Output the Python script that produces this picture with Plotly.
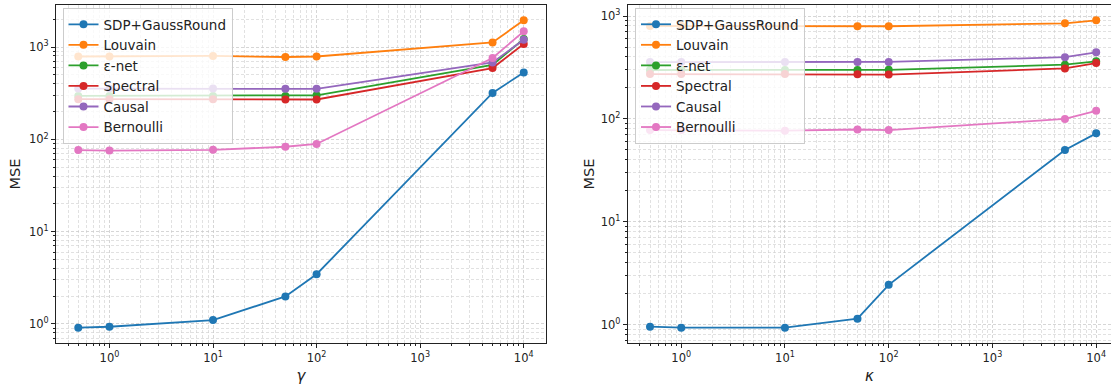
import plotly.graph_objects as go

x_vals = [0.5, 1, 10, 50, 100, 5000, 10000]
methods = ["SDP+GaussRound", "Louvain", "ε-net", "Spectral", "Causal", "Bernoulli"]
colors = ["#1f77b4", "#ff7f0e", "#2ca02c", "#d62728", "#9467bd", "#e377c2"]

# Left panel: MSE vs gamma
gamma_sdp = [0.91, 0.93, 1.10, 1.98, 3.45, 318, 530]
gamma_louvain = [790, 790, 800, 780, 790, 1120, 1950]
gamma_enet = [295, 295, 295, 295, 300, 640, 1220]
gamma_spectral = [272, 272, 272, 270, 270, 592, 1080]
gamma_causal = [355, 355, 355, 352, 352, 680, 1200]
gamma_bernoulli = [76.5, 75.5, 77, 83, 89, 760, 1480]

# Right panel: MSE vs kappa
kappa_sdp = [0.96, 0.94, 0.94, 1.15, 2.45, 50, 72.5]
kappa_louvain = [800, 800, 800, 795, 795, 849, 908]
kappa_enet = [299, 299, 299, 299, 300, 337, 363]
kappa_spectral = [273, 273, 273, 272, 270, 310, 349]
kappa_causal = [357, 357, 357, 357, 358, 398, 444]
kappa_bernoulli = [78, 78, 77, 79, 78, 100, 120]

tick_vals = [1, 10, 100, 1000, 10000]
tick_text = ["10<sup>0</sup>", "10<sup>1</sup>", "10<sup>2</sup>", "10<sup>3</sup>", "10<sup>4</sup>"]

W, H = 1111, 387
FONT = "DejaVu Sans"

left_series = [gamma_sdp, gamma_louvain, gamma_enet, gamma_spectral, gamma_causal, gamma_bernoulli]
right_series = [kappa_sdp, kappa_louvain, kappa_enet, kappa_spectral, kappa_causal, kappa_bernoulli]

fig = go.Figure()
for name, col, ys in zip(methods, colors, left_series):
    fig.add_trace(go.Scatter(x=x_vals, y=ys, name=name, mode="lines+markers",
                             line=dict(color=col, width=1.8), marker=dict(color=col, size=8),
                             xaxis="x", yaxis="y", legend="legend"))
for name, col, ys in zip(methods, colors, right_series):
    fig.add_trace(go.Scatter(x=x_vals, y=ys, name=name, mode="lines+markers",
                             line=dict(color=col, width=1.8), marker=dict(color=col, size=8),
                             xaxis="x2", yaxis="y2", legend="legend2"))

minor_vals = [m * 10 ** e for e in range(-1, 5) for m in range(2, 10)]

grid_major = "rgba(200,200,200,0.75)"
grid_minor = "rgba(205,205,205,0.6)"

def axis_common(**kw):
    d = dict(type="log", tickmode="array", tickvals=tick_vals, ticktext=tick_text,
             showline=True, linecolor="#222", linewidth=1,
             ticks="outside", ticklen=4, tickcolor="#222", tickwidth=1,
             showgrid=True, gridcolor=grid_major, griddash="3px,2px", gridwidth=0.8,
             minor=dict(tickmode="array", tickvals=minor_vals, ticks="outside", ticklen=2,
                        tickcolor="#222", showgrid=True, gridcolor=grid_minor,
                        griddash="3px,2px", gridwidth=0.8),
             tickfont=dict(family=FONT, size=11.5, color="#222"),
             zeroline=False, automargin=False)
    d.update(kw)
    return d

y_dom = [1 - 343 / H, 1 - 5 / H]

fig.update_layout(
    width=W, height=H,
    margin=dict(l=0, r=0, t=0, b=0),
    paper_bgcolor="white", plot_bgcolor="white",
    font=dict(family=FONT, color="#222"),
    showlegend=True,
    xaxis=axis_common(domain=[56 / W, 546 / W], range=[-0.516, 4.215], mirror=True,
                      title=dict(text="<i>γ</i>", font=dict(family=FONT, size=15), standoff=6),
                      anchor="y"),
    yaxis=axis_common(domain=y_dom, range=[-0.2075, 3.4555], mirror=True,
                      title=dict(text="MSE", font=dict(family=FONT, size=14.5), standoff=4),
                      anchor="x"),
    xaxis2=axis_common(domain=[627.7 / W, 1.0], range=[-0.516, 4.143], mirror=True,
                       title=dict(text="<i>κ</i>", font=dict(family=FONT, size=15), standoff=6),
                       anchor="y2"),
    yaxis2=axis_common(domain=y_dom, range=[-0.176, 3.107], mirror=False,
                       title=dict(text="MSE", font=dict(family=FONT, size=14.5), standoff=2),
                       anchor="x2"),
    legend=dict(x=62.5 / W, y=1 - 8 / H, xanchor="left", yanchor="top",
                bgcolor="rgba(255,255,255,0.8)", bordercolor="#cccccc", borderwidth=1,
                font=dict(family=FONT, size=13.5, color="#222"), tracegroupgap=0),
    legend2=dict(x=635 / W, y=1 - 8 / H, xanchor="left", yanchor="top",
                 bgcolor="rgba(255,255,255,0.8)", bordercolor="#cccccc", borderwidth=1,
                 font=dict(family=FONT, size=13.5, color="#222"), tracegroupgap=0),
)

fig.write_html("out.html")
